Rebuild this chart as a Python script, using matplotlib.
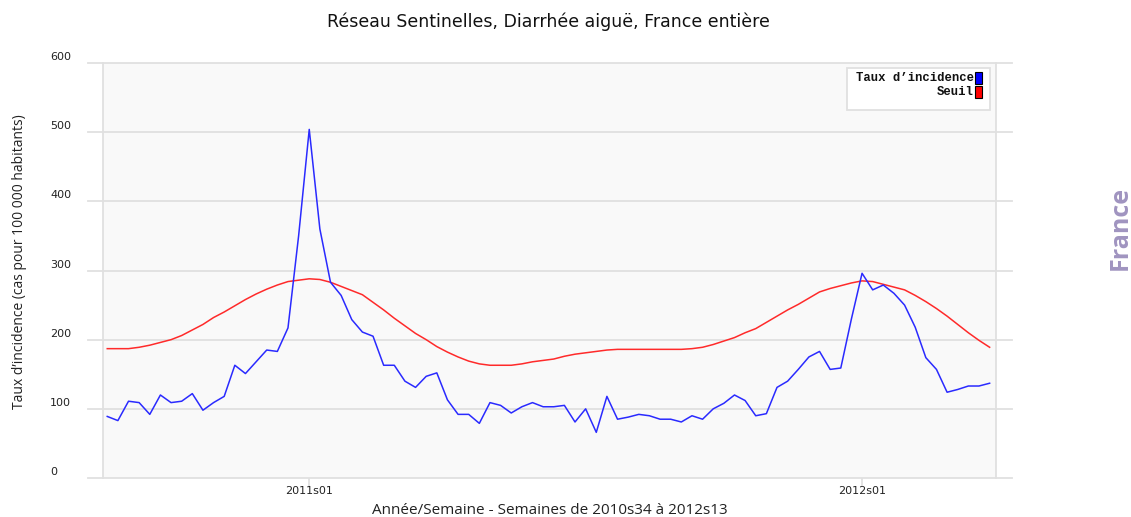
import matplotlib
matplotlib.use("Agg")
import matplotlib.pyplot as plt
import matplotlib.transforms as mtransforms
from matplotlib.patches import Rectangle
import numpy as np

# weekly data, 2010s34 .. 2012s13
weeks = ["2010s%02d" % w for w in range(34, 53)] + \
        ["2011s%02d" % w for w in range(1, 53)] + \
        ["2012s%02d" % w for w in range(1, 14)]

incidence = [89, 83, 111, 109, 92, 120, 109, 111, 122, 98,
             109, 118, 163, 151, 168, 185, 183, 217, 350, 504,
             360, 283, 264, 229, 211, 205, 163, 163, 140, 131,
             147, 152, 113, 92, 92, 79, 109, 105, 94, 103,
             109, 103, 103, 105, 81, 100, 66, 118, 85, 88,
             92, 90, 85, 85, 81, 90, 85, 100, 108, 120,
             112, 90, 93, 131, 140, 157, 175, 183, 157, 159,
             230, 296, 272, 279, 267, 250, 218, 174, 157, 124,
             128, 133, 133, 137]

seuil = [187, 187, 187, 189, 192, 196, 200, 206, 214, 222,
         232, 240, 249, 258, 266, 273, 279, 284, 286, 288,
         287, 283, 277, 271, 265, 254, 243, 231, 220, 209,
         200, 190, 182, 175, 169, 165, 163, 163, 163, 165,
         168, 170, 172, 176, 179, 181, 183, 185, 186, 186,
         186, 186, 186, 186, 186, 187, 189, 193, 198, 203,
         210, 216, 225, 234, 243, 251, 260, 269, 274, 278,
         282, 285, 284, 280, 276, 272, 264, 255, 245, 234,
         222, 210, 199, 189]

tick_labels = ["2011s01", "2012s01"]
yticks = [0, 100, 200, 300, 400, 500, 600]

narrow = ["Liberation Sans Narrow", "DejaVu Sans"]
mono = ["Liberation Mono", "DejaVu Sans Mono"]

fig = plt.figure(figsize=(11.31, 5.17), dpi=100)
ax = fig.add_axes([103 / 1131, 39 / 517, 893 / 1131, 415 / 517])
ax.set_facecolor("#f9f9f9")

x = np.arange(len(weeks))
ax.plot(x, seuil, color="#ff2a2a", lw=1.1, zorder=3)
ax.plot(x, incidence, color="#2a2aff", lw=1.1, zorder=4)

ax.set_xlim(-0.4, len(weeks) - 1 + 0.6)
ax.set_ylim(0, 600)

# horizontal grid lines, running a bit past the plot frame
trans = mtransforms.blended_transform_factory(ax.transAxes, ax.transData)
for v in yticks:
    ax.plot([-0.017, 1.018], [v, v], transform=trans, color="#e0e0e0",
            lw=1.3, clip_on=False, zorder=1)
    ax.text(50 / 1131, 1 - (478 - v * 415 / 600 - 6) / 517, str(v),
            transform=fig.transFigure, ha="left", va="center",
            fontsize=8, family=narrow, color="#222222")

for s in ["top", "bottom"]:
    ax.spines[s].set_visible(False)
for s in ["left", "right"]:
    ax.spines[s].set_color("#e0e0e0")
    ax.spines[s].set_linewidth(1.3)

ax.set_yticks([])
ax.set_xticks([weeks.index(t) for t in tick_labels])
ax.set_xticklabels(tick_labels, fontsize=8, family=narrow, color="#222222")
ax.tick_params(axis="x", length=6, color="#e0e0e0", width=1.3, pad=0)

ax.set_xlabel("Année/Semaine - Semaines de 2010s34 à 2012s13",
              fontsize=11, family="Open Sans", color="#222222", labelpad=5)
fig.text(20 / 1131, 1 - 262 / 517,
         "Taux d’incidence (cas pour 100 000 habitants)",
         rotation=90, ha="center", va="center", fontsize=10,
         family="Open Sans", color="#222222")
fig.text(548 / 1131, 1 - 22 / 517,
         "Réseau Sentinelles, Diarrhée aiguë, France entière",
         ha="center", va="center", fontsize=12.5, family=narrow, color="#111111")

# legend box
fig.patches.append(Rectangle((847 / 1131, 1 - 110 / 517), 143 / 1131, 42 / 517,
                             transform=fig.transFigure, facecolor="white",
                             edgecolor="#e0e0e0", lw=1.3, zorder=5))
for i, (lab, col) in enumerate([("Taux d’incidence", "#0000ff"), ("Seuil", "#ff0000")]):
    yy = 1 - (78 + 14 * i) / 517
    fig.text(974 / 1131, yy, lab, ha="right", va="center", fontsize=8.8,
             family=mono, weight="bold", color="#111111", zorder=6)
    fig.patches.append(Rectangle((975 / 1131, yy - 6 / 517), 7 / 1131, 12 / 517,
                                 transform=fig.transFigure, facecolor=col,
                                 edgecolor="black", lw=0.8, zorder=6))

fig.text(1120 / 1131, 1 - 228 / 517, "France", rotation=90, ha="center",
         va="center", fontsize=18, weight="bold", color="#a094c0",
         family="Open Sans")

fig.savefig("out.png", dpi=100, facecolor="white")
